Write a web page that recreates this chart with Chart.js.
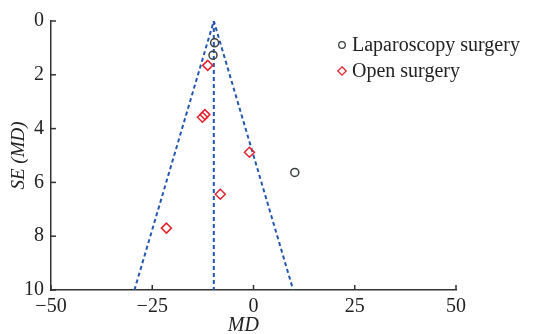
<!DOCTYPE html>
<html>
<head>
<meta charset="utf-8">
<script src="https://cdn.jsdelivr.net/npm/chart.js@4.4.0/dist/chart.umd.min.js"></script>
<style>
  html, body { margin: 0; padding: 0; background: #fff; }
  #wrap { width: 533px; height: 334px; }
</style>
</head>
<body>
<div id="wrap"><canvas id="funnel" width="533" height="334"></canvas></div>
<script>
// values
const lapMD = [-9.6, -10.0, 10.2];
const lapSE = [0.81, 1.27, 5.63];
const openMD = [-11.3, -12.6, -12.0, -1.0, -8.2, -21.5];
const openSE = [1.65, 3.58, 3.48, 4.88, 6.44, 7.70];
const funnelMD = [-29.4, -9.8, 9.8];
const funnelSE = [10, 0, 10];
const pooledMD = [-9.8, -9.8];
const pooledSE = [0, 10];
const xTicks = [-50, -25, 0, 25, 50];
const yTicks = [0, 2, 4, 6, 8, 10];

const toPts = (xs, ys) => xs.map((x, i) => ({ x: x, y: ys[i] }));
const serif = "'Liberation Serif', 'DejaVu Serif', serif";
const blue = '#2456b0';

// inward tick marks on both axes, plus the MD title (sits a bit left of centre)
const innerTicks = {
  id: 'innerTicks',
  afterDraw(chart) {
    const ctx = chart.ctx;
    const xs = chart.scales.x, ys = chart.scales.y;
    ctx.save();
    ctx.strokeStyle = '#333';
    ctx.lineWidth = 1.5;
    xTicks.forEach(v => {
      const px = xs.getPixelForValue(v);
      ctx.beginPath();
      ctx.moveTo(px, ys.bottom);
      ctx.lineTo(px, ys.bottom - 5);
      ctx.stroke();
    });
    yTicks.forEach(v => {
      const py = ys.getPixelForValue(v);
      ctx.beginPath();
      ctx.moveTo(xs.left, py);
      ctx.lineTo(xs.left + 5, py);
      ctx.stroke();
    });
    ctx.fillStyle = '#222';
    ctx.font = 'italic 20px ' + serif;
    ctx.textAlign = 'center';
    ctx.textBaseline = 'middle';
    ctx.fillText('MD', xs.getPixelForValue(-2.5), ys.bottom + 36);
    ctx.restore();
  }
};

// legend in the top right corner
const cornerLegend = {
  id: 'cornerLegend',
  afterDraw(chart) {
    const ctx = chart.ctx;
    const items = chart.data.datasets.filter(d => d.inLegend);
    ctx.save();
    ctx.font = '20px ' + serif;
    ctx.textBaseline = 'middle';
    items.forEach((d, i) => {
      const y = 45 + i * 26;
      const x = 342;
      ctx.strokeStyle = d.borderColor;
      ctx.lineWidth = 1.3;
      ctx.beginPath();
      if (d.pointStyle === 'rectRot') {
        ctx.moveTo(x, y - 4.2);
        ctx.lineTo(x + 4.2, y);
        ctx.lineTo(x, y + 4.2);
        ctx.lineTo(x - 4.2, y);
        ctx.closePath();
      } else {
        ctx.arc(x, y, 3.3, 0, Math.PI * 2);
      }
      ctx.stroke();
      ctx.fillStyle = '#222';
      ctx.fillText(d.label, 352, y + 1);
    });
    ctx.restore();
  }
};

new Chart(document.getElementById('funnel').getContext('2d'), {
  type: 'scatter',
  data: {
    datasets: [
      {
        label: 'Laparoscopy surgery',
        inLegend: true,
        data: toPts(lapMD, lapSE),
        pointStyle: 'circle',
        pointRadius: 4,
        borderColor: '#3a3f40',
        backgroundColor: 'rgba(255,255,255,0)',
        borderWidth: 1.5,
        order: 0
      },
      {
        label: 'Open surgery',
        inLegend: true,
        data: toPts(openMD, openSE),
        pointStyle: 'rectRot',
        pointRadius: 5,
        borderColor: '#e5232f',
        backgroundColor: 'rgba(255,255,255,0)',
        borderWidth: 1.5,
        order: 0
      },
      {
        label: 'funnel',
        type: 'line',
        data: toPts(funnelMD, funnelSE),
        borderColor: blue,
        borderWidth: 2,
        borderDash: [4, 3],
        pointRadius: 0,
        fill: false,
        order: 1
      },
      {
        label: 'pooled',
        type: 'line',
        data: toPts(pooledMD, pooledSE),
        borderColor: blue,
        borderWidth: 2,
        borderDash: [4, 3],
        pointRadius: 0,
        fill: false,
        order: 1
      }
    ]
  },
  options: {
    responsive: false,
    animation: false,
    layout: { padding: { left: 0, top: 21, right: 77, bottom: 0 } },
    plugins: {
      legend: { display: false },
      tooltip: { enabled: false }
    },
    scales: {
      x: {
        type: 'linear',
        min: -50,
        max: 50,
        afterFit: s => { s.height = 44; },
        afterBuildTicks: s => { s.ticks = xTicks.map(v => ({ value: v })); },
        grid: { display: false, drawTicks: false },
        border: { display: true, color: '#333', width: 1.5 },
        ticks: {
          padding: 5,
          color: '#222',
          font: { family: serif, size: 20 },
          callback: v => String(v).replace('-', '\u2212')
        }
      },
      y: {
        type: 'linear',
        reverse: true,
        min: 0,
        max: 10,
        afterFit: s => { s.width = 51; },
        afterBuildTicks: s => { s.ticks = yTicks.map(v => ({ value: v })); },
        grid: { display: false, drawTicks: false },
        border: { display: true, color: '#333', width: 1.5 },
        ticks: {
          padding: 7,
          color: '#222',
          font: { family: serif, size: 20 }
        },
        title: {
          display: true,
          text: 'SE (MD)',
          color: '#222',
          padding: { top: 8, bottom: 0 },
          font: { family: serif, size: 19, style: 'italic', weight: 'normal' }
        }
      }
    }
  },
  plugins: [innerTicks, cornerLegend]
});
</script>
</body>
</html>
